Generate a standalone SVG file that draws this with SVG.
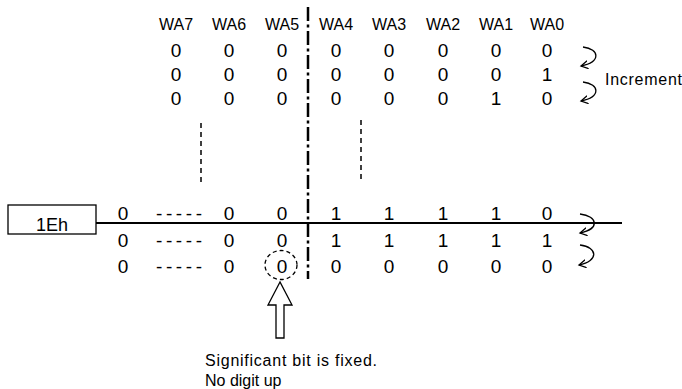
<svg xmlns="http://www.w3.org/2000/svg" width="682" height="389" viewBox="0 0 682 389">
<style>
text{font-family:"Liberation Sans",Arial,sans-serif;fill:#000}
.h{font-size:16px;text-anchor:middle}
.d{font-size:19px;text-anchor:middle}
.t{font-size:16px}
.c{fill:none;stroke:#000;stroke-width:1.3}
</style>
<defs>
<marker id="ah" markerUnits="userSpaceOnUse" markerWidth="10" markerHeight="10" refX="7" refY="4" orient="auto">
<path d="M0,0 L7,4 L0,8" fill="none" stroke="#000" stroke-width="1.3"/>
</marker>
</defs>
<rect width="682" height="389" fill="#fff"/>
<g id="header">
<text class="h" x="176" y="30">WA7</text>
<text class="h" x="229" y="30">WA6</text>
<text class="h" x="282" y="30">WA5</text>
<text class="h" x="336" y="30">WA4</text>
<text class="h" x="389" y="30">WA3</text>
<text class="h" x="443" y="30">WA2</text>
<text class="h" x="496" y="30">WA1</text>
<text class="h" x="547" y="30">WA0</text>
</g>
<g id="top-rows">
<text class="d" x="176" y="57">0</text><text class="d" x="229" y="57">0</text><text class="d" x="282" y="57">0</text><text class="d" x="336" y="57">0</text><text class="d" x="389" y="57">0</text><text class="d" x="443" y="57">0</text><text class="d" x="496" y="57">0</text><text class="d" x="547" y="57">0</text>
<text class="d" x="176" y="81">0</text><text class="d" x="229" y="81">0</text><text class="d" x="282" y="81">0</text><text class="d" x="336" y="81">0</text><text class="d" x="389" y="81">0</text><text class="d" x="443" y="81">0</text><text class="d" x="496" y="81">0</text><text class="d" x="547" y="81">1</text>
<text class="d" x="176" y="105">0</text><text class="d" x="229" y="105">0</text><text class="d" x="282" y="105">0</text><text class="d" x="336" y="105">0</text><text class="d" x="389" y="105">0</text><text class="d" x="443" y="105">0</text><text class="d" x="496" y="105">1</text><text class="d" x="547" y="105">0</text>
</g>
<g id="ellipsis-lines" stroke="#000" stroke-width="1.5" stroke-dasharray="5 4">
<line x1="201" y1="123" x2="201" y2="182"/>
<line x1="361" y1="120" x2="361" y2="179"/>
</g>
<g id="divider">
<line x1="308" y1="7" x2="308" y2="279" stroke="#000" stroke-width="2.5" stroke-dasharray="14 3.5 3 3.5"/>
</g>
<g id="box-1Eh">
<rect x="8" y="205" width="88" height="29" fill="#fff" stroke="#000" stroke-width="1.3"/>
<text x="52" y="231" font-size="18" text-anchor="middle">1Eh</text>
</g>
<g id="connectors">
<line x1="96" y1="223" x2="622" y2="223" stroke="#000" stroke-width="2"/>
<path class="c" d="M583,47 C600,49 601,62 581,66" marker-end="url(#ah)"/>
<path class="c" d="M583,82 C600,84 601,97 581,101" marker-end="url(#ah)"/>
<path class="c" d="M580,214 C598,216 600,229 580,233" marker-end="url(#ah)"/>
<path class="c" d="M580,245 C598,247 599,261 579,265" marker-end="url(#ah)"/>
</g>
<g id="increment-label">
<text class="t" x="605" y="85" textLength="77">Increment</text>
</g>
<g id="bottom-rows">
<text class="d" x="123" y="220">0</text><text class="d" x="179" y="220" textLength="46" lengthAdjust="spacing">-----</text><text class="d" x="229" y="220">0</text><text class="d" x="282" y="220">0</text><text class="d" x="336" y="220">1</text><text class="d" x="389" y="220">1</text><text class="d" x="443" y="220">1</text><text class="d" x="496" y="220">1</text><text class="d" x="547" y="220">0</text>
<text class="d" x="123" y="247">0</text><text class="d" x="179" y="247" textLength="46" lengthAdjust="spacing">-----</text><text class="d" x="229" y="247">0</text><text class="d" x="282" y="247">0</text><text class="d" x="336" y="247">1</text><text class="d" x="389" y="247">1</text><text class="d" x="443" y="247">1</text><text class="d" x="496" y="247">1</text><text class="d" x="547" y="247">1</text>
<text class="d" x="123" y="273">0</text><text class="d" x="179" y="273" textLength="46" lengthAdjust="spacing">-----</text><text class="d" x="229" y="273">0</text><text class="d" x="282" y="273">0</text><text class="d" x="336" y="273">0</text><text class="d" x="389" y="273">0</text><text class="d" x="443" y="273">0</text><text class="d" x="496" y="273">0</text><text class="d" x="547" y="273">0</text>
</g>
<g id="fixed-bit-mark">
<ellipse cx="281" cy="265" rx="16" ry="14.5" fill="none" stroke="#000" stroke-width="1.3" stroke-dasharray="4 3"/>
<polygon points="280,282 268,305 276,305 276,338 284,338 284,305 292,305" fill="#fff" stroke="#000" stroke-width="1.3"/>
</g>
<g id="note">
<text class="t" x="205" y="366" textLength="172">Significant bit is fixed.</text>
<text class="t" x="205" y="386">No digit up</text>
</g>
</svg>
